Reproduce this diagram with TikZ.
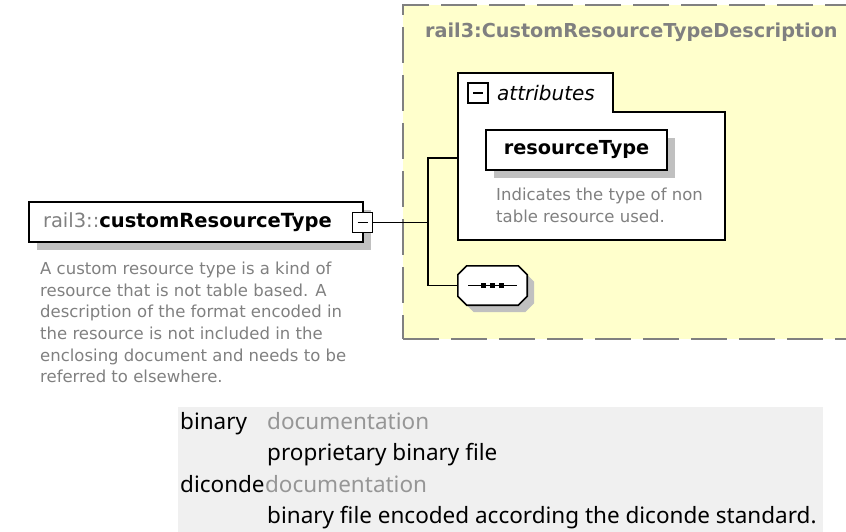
\documentclass[tikz,border=0pt]{standalone}
\usepackage{fontspec}
\setmainfont{DejaVu Sans}
\newfontfamily\tablefont{Noto Sans}
\usepackage{xcolor}
\usetikzlibrary{shadows}
\definecolor{paleyellow}{RGB}{255, 255, 204}
\definecolor{dashgray}{RGB}{128, 128, 128}
\definecolor{docgray}{RGB}{128, 128, 128}
\definecolor{shadowgray}{RGB}{192, 192, 192}
\definecolor{tablebg}{RGB}{240, 240, 240}
\definecolor{softgray}{RGB}{150, 150, 150}
\tikzset{
    descbox/.style={rectangle, draw=dashgray, line width=2.6pt, dash pattern=on 36pt off 12pt, fill=paleyellow, inner sep=0pt},
    typebox/.style={rectangle, draw=black, line width=1.6pt, fill=white, inner sep=0pt, drop shadow={shadow xshift=8pt, shadow yshift=-8pt, fill=shadowgray, opacity=1}},
    minusbox/.style={rectangle, draw=black, line width=1.2pt, fill=white, minimum size=20pt, inner sep=0pt},
    attrframe/.style={draw=black, line width=1.6pt, fill=white},
    doc/.style={align=left, inner sep=0pt, text=docgray, font=\fontsize{16.5}{21.6}\selectfont},
    conn/.style={line width=1.5pt, black},
    tablekey/.style={anchor=base west, inner sep=0pt, font=\tablefont\fontsize{22.5}{27}\selectfont},
    tabledoc/.style={tablekey, text=softgray}
}

\begin{document}
\begin{tikzpicture}[x=1pt, y=-1pt]
    \useasboundingbox (0,0) rectangle (846,532);
    \clip (0,0) rectangle (846,532);
    % complex type description
    \node[descbox, minimum width=470pt, minimum height=334pt] (desc) at (638,172) {};
    \node[anchor=base west, inner sep=0pt, text=docgray, font=\bfseries\fontsize{19.2}{23}\selectfont] (desctitle) at (425,38) {rail3:CustomResourceTypeDescription};
    % attributes group
    \draw[attrframe] (458,240) -- (458,73) -- (613,73) -- (613,112) -- (725,112) -- (725,240) -- cycle;
    \node[minusbox] (attrminus) at (478,93) {};
    \draw[line width=1.2pt] ([xshift=-5pt]attrminus.center) -- ([xshift=5pt]attrminus.center);
    \node[anchor=base west, inner sep=0pt, font=\itshape\fontsize{20}{24}\selectfont] (attrlabel) at (497,101) {attributes};
    \node[typebox, minimum width=181pt, minimum height=40pt, font=\bfseries\fontsize{19.3}{23}\selectfont] (restype) at (576.5,150) {resourceType};
    \node[doc, anchor=north west] (restypedoc) at (496,188) {Indicates the type of non\\table resource used.};
    \coordinate (attrin) at (458,158);
    % sequence compositor
    \node[minimum width=69pt, minimum height=39pt, inner sep=0pt] (seq) at (492.5,285.5) {};
    \draw[line width=1.6pt, fill=white, drop shadow={shadow xshift=7pt, shadow yshift=-7pt, fill=shadowgray, opacity=1}]
        ([xshift=9pt]seq.north west) -- ([xshift=-9pt]seq.north east) -- ([yshift=-9pt]seq.north east)
        -- ([yshift=9pt]seq.south east) -- ([xshift=-9pt]seq.south east) -- ([xshift=9pt]seq.south west)
        -- ([yshift=9pt]seq.south west) -- ([yshift=-9pt]seq.north west) -- cycle;
    \draw[line width=1.2pt] ([xshift=-24.5pt]seq.center) -- ([xshift=24.5pt]seq.center);
    \foreach \dx in {-9,0,9}
        \fill ([xshift=\dx pt]seq.center) ++(-2.6,-2.6) rectangle ++(5.2,5.2);
    % the element itself
    \node[typebox, minimum width=334pt, minimum height=40pt, text width=306pt, align=left, font=\fontsize{19.5}{23}\selectfont] (crt) at (196,222) {\textcolor{docgray}{rail3::}\textbf{customResourceType}};
    \node[minusbox] (crtminus) at (362.5,222.5) {};
    \draw[line width=1.2pt] ([xshift=-5pt]crtminus.center) -- ([xshift=5pt]crtminus.center);
    \node[doc, anchor=north west] (crtdoc) at (40,262) {A custom resource type is a kind of\\resource that is not table based. A\\description of the format encoded in\\the resource is not included in the\\enclosing document and needs to be\\referred to elsewhere.};
    % connectors
    \coordinate (fork) at (428,222.5);
    \draw[conn] (crtminus.east) -- (fork);
    \draw[conn] (fork) |- (attrin);
    \draw[conn] (fork) |- (seq.west);
    % enumeration facets
    \fill[tablebg] (178,407) rectangle (823,532);
    \node[tablekey] (binkey) at (180,429) {binary};
    \node[tabledoc] (bindoc) at (267,429) {documentation};
    \node[tablekey] (bintext) at (267,460) {proprietary binary file};
    \node[tablekey] (dickey) at (180,492) {diconde};
    \node[tabledoc] (dicdoc) at (dickey.base east) {documentation};
    \node[tablekey] (dictext) at (267,523) {binary file encoded according the diconde standard.};
\end{tikzpicture}
\end{document}
